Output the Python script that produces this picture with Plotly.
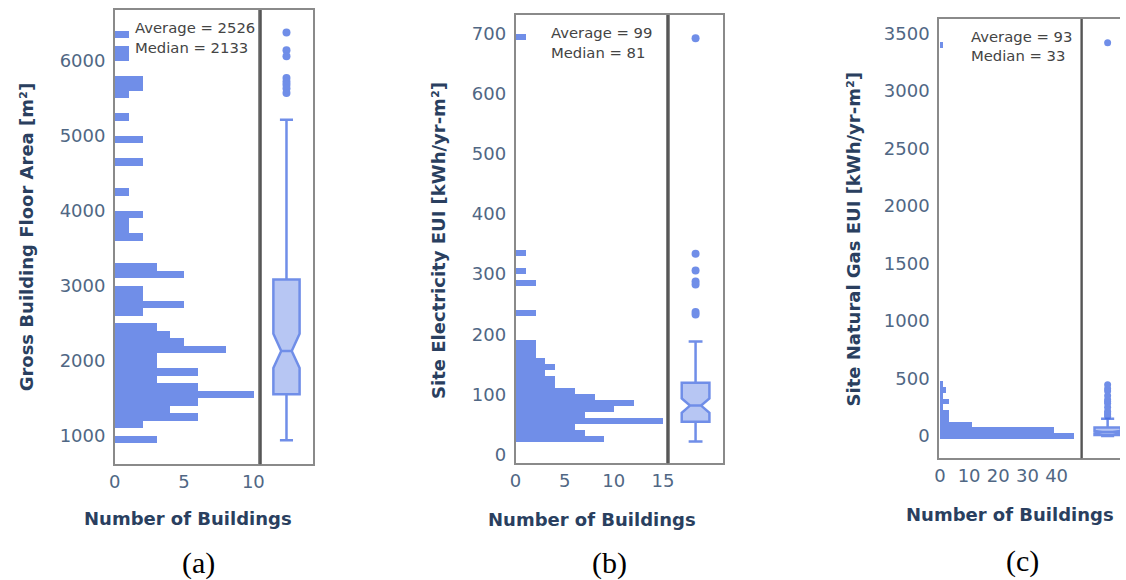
import plotly.graph_objects as go

W, H = 1126, 580
BLUE = "royalblue"
TICK_FONT = dict(family="DejaVu Sans", size=18, color="#506784")
TITLE_FONT = dict(family="DejaVu Sans", size=18, color="#2a3f5f", weight="bold")
NOTE_FONT = dict(family="DejaVu Sans", size=14.8, color="#444444")

# ---- (a) gross floor area, histogram bins of 100 m2 (lower edges) ----
area_bin_size = 100
area_bin_lo = [900, 1100, 1200, 1300, 1400, 1500, 1600, 1700, 1800, 1900, 2000,
               2100, 2200, 2300, 2400, 2600, 2700, 2800, 2900, 3100, 3200, 3600,
               3700, 3800, 3900, 4200, 4600, 4900, 5200, 5500, 5600, 5700, 6000,
               6100, 6300]
area_counts = [3, 2, 6, 4, 6, 10, 6, 3, 6, 3, 3,
               8, 5, 4, 3, 2, 5, 2, 2, 5, 3, 2,
               1, 1, 2, 1, 2, 2, 1, 1, 2, 2, 1,
               1, 1]
area_box = dict(q1=1555, median=2133, q3=3085, lowerfence=943, upperfence=5215, notchspan=228)
area_outliers = [6377, 6140, 6060, 5770, 5720, 5680, 5630, 5570]
area_stats = ("Average = 2526", "Median = 2133")

# ---- (b) site electricity EUI, bins of 10 kWh/yr-m2 ----
elec_bin_size = 10
elec_bin_lo = [20, 30, 40, 50, 60, 70, 80, 90, 100, 110, 120, 130, 140, 150,
               160, 170, 180, 230, 280, 300, 330, 690]
elec_counts = [9, 7, 6, 15, 7, 10, 12, 8, 6, 4, 4, 3, 4, 3,
               2, 2, 2, 2, 2, 1, 1, 1]
elec_box = dict(q1=54, median=81, q3=119, lowerfence=21, upperfence=188, notchspan=12)
elec_outliers = [693, 334, 306, 288, 283, 237, 233]
elec_stats = ("Average = 99", "Median = 81")

# ---- (c) site natural gas EUI, bins of 50 kWh/yr-m2 (centres) ----
gas_bin_size = 50
gas_bin_mid = [0, 50, 100, 150, 200, 250, 300, 350, 400, 450, 3400]
gas_counts = [46, 39, 11, 3, 3, 1, 3, 1, 2, 1, 1]
gas_box = dict(q1=8, median=33, q3=73, lowerfence=0, upperfence=150, notchspan=10)
gas_outliers = [170, 185, 200, 215, 250, 285, 300, 315, 350, 390, 410, 445, 3420]
gas_stats = ("Average = 93", "Median = 33")

y_titles = ["Gross Building Floor Area [m²]",
            "Site Electricity EUI [kWh/yr-m²]",
            "Site Natural Gas EUI [kWh/yr-m²]"]
x_title = "Number of Buildings"
captions = ["(a)", "(b)", "(c)"]


def xd(a, b):
    return [a / W, b / W]


def yd(top, bottom):
    return [1 - bottom / H, 1 - top / H]


# pixel frames of each panel: histogram x span, box x span, top/bottom
panels = [
    dict(hx=(110, 257), bx=(257, 310), y=(10, 465), yrange=[623, 6678], xrange=[0, 10.5],
         yticks=[1000, 2000, 3000, 4000, 5000, 6000], xticks=[0, 5, 10], boxrange=[-0.5, 0.5],
         marker=8, note=(128, 28, 48), ytitle_x=21, ytitle_y=238, xtitle_y=519, cap=(195, 564)),
    dict(hx=(515, 669), bx=(669, 725), y=(15, 464), yrange=[-15, 732], xrange=[0, 15.5],
         yticks=[0, 100, 200, 300, 400, 500, 600, 700], xticks=[0, 5, 10, 15], boxrange=[-0.5, 0.5],
         marker=8, note=(549, 33, 53), ytitle_x=437, ytitle_y=241, xtitle_y=520, cap=(610, 564)),
    dict(hx=(943, 1087), bx=(1087, 1126), y=(19, 459), yrange=[-194, 3626], xrange=[-0.34, 48.5],
         yticks=[0, 500, 1000, 1500, 2000, 2500, 3000, 3500], xticks=[0, 10, 20, 30, 40],
         boxrange=[-0.5, 0.236], marker=7, note=(973, 37, 56), ytitle_x=857, ytitle_y=240,
         xtitle_y=515, cap=(1027, 562)),
]

hist_data = [
    ([lo + area_bin_size / 2 for lo in area_bin_lo], area_counts, area_bin_size),
    ([lo + elec_bin_size / 2 for lo in elec_bin_lo], elec_counts, elec_bin_size),
    (gas_bin_mid, gas_counts, gas_bin_size),
]
box_data = [(area_box, area_outliers), (elec_box, elec_outliers), (gas_box, gas_outliers)]
stats = [area_stats, elec_stats, gas_stats]

fig = go.Figure()
layout = dict(
    width=W, height=H, margin=dict(l=0, r=0, t=0, b=0),
    paper_bgcolor="white", plot_bgcolor="white", showlegend=False,
    bargap=0, annotations=[], shapes=[],
)

for i, p in enumerate(panels):
    hx_n = 2 * i + 1
    bx_n = 2 * i + 2
    hxs = "x" if hx_n == 1 else f"x{hx_n}"
    hys = "y" if hx_n == 1 else f"y{hx_n}"
    bxs, bys = f"x{bx_n}", f"y{bx_n}"

    mids, counts, size = hist_data[i]
    fig.add_trace(go.Bar(
        x=counts, y=mids, orientation="h", width=size,
        marker=dict(color=BLUE, line=dict(width=0)), opacity=0.75,
        xaxis=hxs, yaxis=hys,
    ))

    bstats, outl = box_data[i]
    fig.add_trace(go.Box(
        x=[0], q1=[bstats["q1"]], median=[bstats["median"]], q3=[bstats["q3"]],
        lowerfence=[bstats["lowerfence"]], upperfence=[bstats["upperfence"]],
        notchspan=[bstats["notchspan"]], notched=True, notchwidth=0.3,
        width=0.5, whiskerwidth=0.5, boxpoints=False,
        line=dict(color=BLUE, width=2.5), fillcolor="rgba(65,105,225,0.5)",
        opacity=0.75, xaxis=bxs, yaxis=bys,
    ))
    fig.add_trace(go.Scatter(
        x=[0] * len(outl), y=outl, mode="markers",
        marker=dict(color=BLUE, size=p["marker"]), opacity=0.75,
        xaxis=bxs, yaxis=bys,
    ))

    ydom = yd(*p["y"])
    layout["xaxis" if hx_n == 1 else f"xaxis{hx_n}"] = dict(
        domain=xd(*p["hx"]), anchor=hys, range=p["xrange"], tickvals=p["xticks"],
        tickfont=TICK_FONT, showgrid=False, zeroline=False, ticks="",
        showline=True, mirror=True, linecolor="#8a8a8a", linewidth=1.5,
    )
    layout["yaxis" if hx_n == 1 else f"yaxis{hx_n}"] = dict(
        domain=ydom, anchor=hxs, range=p["yrange"], tickvals=p["yticks"],
        tickfont=TICK_FONT, showgrid=False, zeroline=False, ticks="",
        ticklabelstandoff=4,
        showline=True, mirror=True, linecolor="#8a8a8a", linewidth=1.5,
    )
    layout[f"xaxis{bx_n}"] = dict(
        domain=xd(*p["bx"]), anchor=bys, range=p["boxrange"], showticklabels=False,
        showgrid=False, zeroline=False, ticks="",
        showline=True, mirror=True, linecolor="#8a8a8a", linewidth=1.5,
    )
    layout[f"yaxis{bx_n}"] = dict(
        domain=ydom, anchor=bxs, range=p["yrange"], showticklabels=False,
        showgrid=False, zeroline=False, ticks="",
        showline=(i < 2), mirror=True, linecolor="#8a8a8a", linewidth=1.5,
    )

    # darker divider between histogram and box panel
    layout["shapes"].append(dict(
        type="line", xref="paper", yref="paper",
        x0=p["hx"][1] / W, x1=p["hx"][1] / W, y0=ydom[0], y1=ydom[1],
        line=dict(color="#555555", width=2),
    ))

    nx, ny1, ny2 = p["note"]
    for line_text, ny in zip(stats[i], (ny1, ny2)):
        layout["annotations"].append(dict(
            text=line_text, xref="paper", yref="paper",
            x=nx / W, y=1 - ny / H, xanchor="left", yanchor="middle",
            showarrow=False, font=NOTE_FONT,
        ))
    layout["annotations"].append(dict(
        text=y_titles[i], xref="paper", yref="paper",
        x=p["ytitle_x"] / W, y=1 - p["ytitle_y"] / H, xanchor="center", yanchor="middle",
        textangle=-90, showarrow=False, font=TITLE_FONT,
    ))
    layout["annotations"].append(dict(
        text=x_title, xref="paper", yref="paper",
        x=(p["hx"][0] + p["hx"][1]) / 2 / W, y=1 - p["xtitle_y"] / H,
        xanchor="center", yanchor="middle", showarrow=False, font=TITLE_FONT,
    ))
    cx, cy = p["cap"]
    layout["annotations"].append(dict(
        text=captions[i], xref="paper", yref="paper", x=cx / W, y=1 - cy / H,
        xanchor="center", yanchor="middle", showarrow=False,
        font=dict(family="Liberation Serif", size=30, color="black"),
    ))

fig.update_layout(**layout)
fig.write_html("out.html", config={"displayModeBar": False})
